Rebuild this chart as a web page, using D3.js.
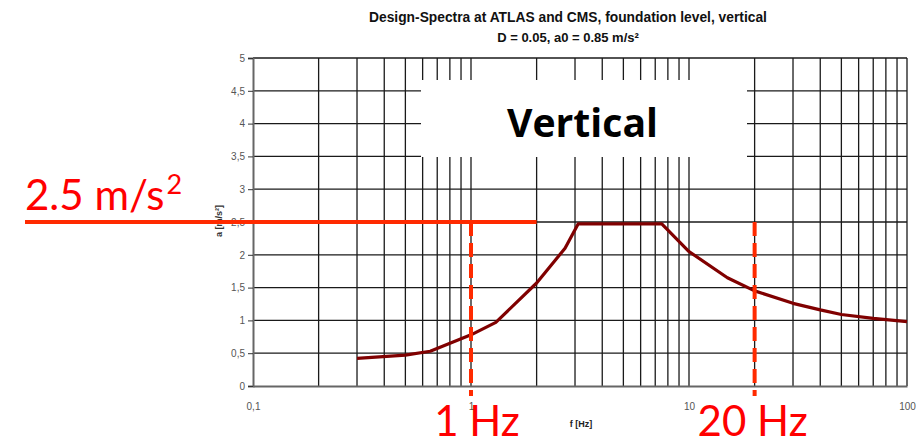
<!DOCTYPE html>
<html>
<head>
<meta charset="utf-8">
<script src="https://cdn.jsdelivr.net/npm/d3@7"></script>
<style>
  html, body { margin: 0; padding: 0; background: #fff; }
  svg { display: block; }
</style>
</head>
<body>
<svg id="chart" width="916" height="441"></svg>
<script>
// Design spectrum, vertical component: frequency [Hz] vs acceleration [m/s²]
const freq = [0.3, 0.5, 0.65, 1.0, 1.3, 2.0, 2.7, 3.1, 7.5, 10, 15, 20, 30, 40, 50, 70, 100];
const accel = [0.42, 0.47, 0.53, 0.78, 0.97, 1.57, 2.1, 2.47, 2.47, 2.05, 1.65, 1.45, 1.26, 1.16, 1.09, 1.03, 0.98];

const yTicks = [0, 0.5, 1, 1.5, 2, 2.5, 3, 3.5, 4, 4.5, 5];
const xTickLabels = [0.1, 1, 10, 100];

// Annotation values
const refAccel = 2.5;      // horizontal marker
const refAccelEndFreq = 2; // marker runs out to this frequency
const refFreqs = [1, 20];  // vertical dashed markers
const refLabelShift = [6, -2];

const svg = d3.select("#chart");

const x = d3.scaleLog().domain([0.1, 100]).range([253, 907]);
const y = d3.scaleLinear().domain([0, 5]).range([386, 58]);

const fmt = d => String(d).replace(".", ",");
const sans = "'Liberation Sans', Arial, sans-serif";

// Title
svg.append("text")
  .attr("x", 568).attr("y", 22)
  .attr("text-anchor", "middle")
  .style("font-family", sans)
  .style("font-weight", "bold").style("font-size", "13.8px")
  .attr("fill", "#111")
  .text("Design-Spectra at ATLAS and CMS, foundation level, vertical");
svg.append("text")
  .attr("x", 568).attr("y", 42)
  .attr("text-anchor", "middle")
  .style("font-family", sans)
  .style("font-weight", "bold").style("font-size", "13px")
  .attr("fill", "#111")
  .text("D = 0.05, a0 = 0.85 m/s²");

// Grid
const grid = svg.append("g");
const minorX = [];
[0.1, 1, 10].forEach(dec => { for (let k = 1; k <= 9; k++) minorX.push(dec * k); });
minorX.push(100);
grid.selectAll("line.vx").data(minorX.filter(d => d > 0.1)).enter().append("line")
  .attr("x1", d => x(d)).attr("x2", d => x(d))
  .attr("y1", y(5)).attr("y2", y(0))
  .attr("stroke", "#1a1a1a").attr("stroke-width", 1.3);
grid.selectAll("line.hy").data(yTicks.filter(d => d > 0)).enter().append("line")
  .attr("x1", x(0.1)).attr("x2", x(100))
  .attr("y1", d => y(d)).attr("y2", d => y(d))
  .attr("stroke", "#1a1a1a").attr("stroke-width", 1.3);

// Y axis
const yAxis = svg.append("g").attr("transform", `translate(${x(0.1)},0)`)
  .call(d3.axisLeft(y).tickValues(yTicks).tickFormat(fmt).tickSize(5).tickPadding(3));
yAxis.select(".domain").attr("stroke", "#666").attr("stroke-width", 2);
yAxis.selectAll(".tick line").attr("stroke", "#333");
yAxis.selectAll(".tick text")
  .style("font-family", sans)
  .style("font-size", "10px").attr("fill", "#555");

// X axis
const xAxis = svg.append("g").attr("transform", `translate(0,${y(0)})`)
  .call(d3.axisBottom(x).tickValues(xTickLabels).tickFormat(fmt).tickSize(0).tickPadding(17));
xAxis.select(".domain").attr("stroke", "#666").attr("stroke-width", 2);
xAxis.selectAll(".tick text")
  .style("font-family", sans)
  .style("font-size", "10px").attr("fill", "#555");

// Axis titles
svg.append("text")
  .attr("transform", "translate(222,221) rotate(-90)")
  .attr("text-anchor", "middle")
  .style("font-family", sans)
  .style("font-size", "9px").style("font-weight", "bold")
  .attr("fill", "#333")
  .text("a [m/s²]");
svg.append("text")
  .attr("x", 581).attr("y", 427)
  .attr("text-anchor", "middle")
  .style("font-family", sans)
  .style("font-size", "9px").style("font-weight", "bold")
  .attr("fill", "#222")
  .text("f [Hz]");

// Spectrum curve
const line = d3.line().x((d, i) => x(freq[i])).y(d => y(d));
svg.append("path")
  .datum(accel)
  .attr("d", line)
  .attr("fill", "none")
  .attr("stroke", "#800000")
  .attr("stroke-width", 3.2)
  .attr("stroke-linejoin", "round");

// "Vertical" label panel
svg.append("rect")
  .attr("x", 421).attr("y", 80).attr("width", 326).attr("height", 77)
  .attr("fill", "#fff");
svg.append("text")
  .attr("x", 582.5).attr("y", 137)
  .attr("text-anchor", "middle")
  .attr("textLength", 151).attr("lengthAdjust", "spacingAndGlyphs")
  .style("font-family", "'Open Sans', Lato, sans-serif")
  .style("font-weight", "bold").style("font-size", "40px")
  .attr("fill", "#000")
  .text("Vertical");

// Reference markers
const red = "#ff2a00";
svg.append("line")
  .attr("x1", 25).attr("x2", x(refAccelEndFreq))
  .attr("y1", y(refAccel)).attr("y2", y(refAccel))
  .attr("stroke", red).attr("stroke-width", 4);
svg.selectAll("line.vref").data(refFreqs).enter().append("line")
  .attr("x1", d => x(d)).attr("x2", d => x(d))
  .attr("y1", y(refAccel)).attr("y2", y(0) + 10)
  .attr("stroke", red).attr("stroke-width", 4)
  .attr("stroke-dasharray", "14 7");

const annFont = "Lato, 'Open Sans', sans-serif";
const accLabel = svg.append("text")
  .attr("x", 25).attr("y", 210)
  .style("font-family", annFont).style("font-size", "42px")
  .attr("fill", "#ff0000");
accLabel.append("tspan").text(String(refAccel) + " m/s");
accLabel.append("tspan").attr("dx", 2).attr("dy", -16).style("font-size", "27px").text("2");

svg.selectAll("text.fref").data(refFreqs).enter().append("text")
  .attr("x", (d, i) => x(d) + refLabelShift[i])
  .attr("y", 436)
  .attr("text-anchor", "middle")
  .style("font-family", annFont).style("font-size", "42px")
  .attr("fill", "#ff0000")
  .text(d => d + " Hz");
</script>
</body>
</html>
